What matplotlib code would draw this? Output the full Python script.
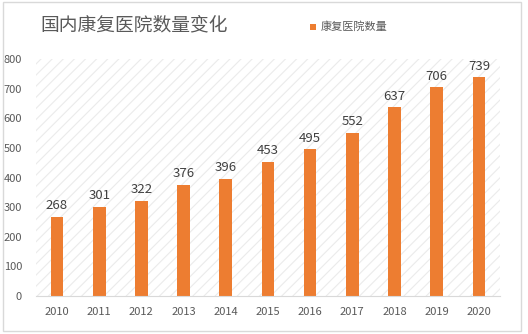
import matplotlib
matplotlib.use("Agg")
import matplotlib.pyplot as plt
from matplotlib.patches import Rectangle

plt.rcParams['font.family'] = ['Noto Sans CJK SC', 'DejaVu Sans']
plt.rcParams['hatch.linewidth'] = 0.8

years = ['2010', '2011', '2012', '2013', '2014', '2015', '2016', '2017', '2018', '2019', '2020']
counts = [268, 301, 322, 376, 396, 453, 495, 552, 637, 706, 739]
yticks = [0, 100, 200, 300, 400, 500, 600, 700, 800]

bar_color = '#ED7D31'
fig = plt.figure(figsize=(5.28, 3.34), dpi=100)
fig.patch.set_facecolor('white')
fig.patches.append(Rectangle((0.006, 0.009), 0.981, 0.985, transform=fig.transFigure,
                             fill=False, edgecolor='#d9d9d9', linewidth=1))

ax = fig.add_axes([0.068, 0.114, 0.879, 0.709])
ax.set_xlim(-0.5, len(years) - 0.5)
ax.set_ylim(0, 800)
ax.add_patch(Rectangle((0, 0), 1, 1, transform=ax.transAxes, facecolor='white',
                       hatch='///', edgecolor='#ebebeb', linewidth=0, zorder=0))

x = range(len(years))
bars = ax.bar(x, counts, width=0.3, color=bar_color, zorder=2)
for xi, v in zip(x, counts):
    ax.text(xi, v + 15, str(v), ha='center', va='bottom', fontsize=9.5, color='#404040')

ax.set_xticks(list(x))
ax.set_xticklabels(years)
ax.set_yticks(yticks)
ax.tick_params(axis='both', length=0, labelsize=8, colors='#595959')
ax.tick_params(axis='x', pad=8)
ax.tick_params(axis='y', pad=10)
for s in ['top', 'right', 'left']:
    ax.spines[s].set_visible(False)
ax.spines['bottom'].set_color('#d9d9d9')

fig.text(0.076, 0.925, '国内康复医院数量变化', fontsize=13.5, color='#595959', va='center')
fig.patches.append(Rectangle((0.587, 0.910), 0.012, 0.019, transform=fig.transFigure,
                             facecolor=bar_color, edgecolor='none'))
fig.text(0.607, 0.920, '康复医院数量', fontsize=8, color='#595959', va='center')

fig.savefig('out.png', dpi=100)
